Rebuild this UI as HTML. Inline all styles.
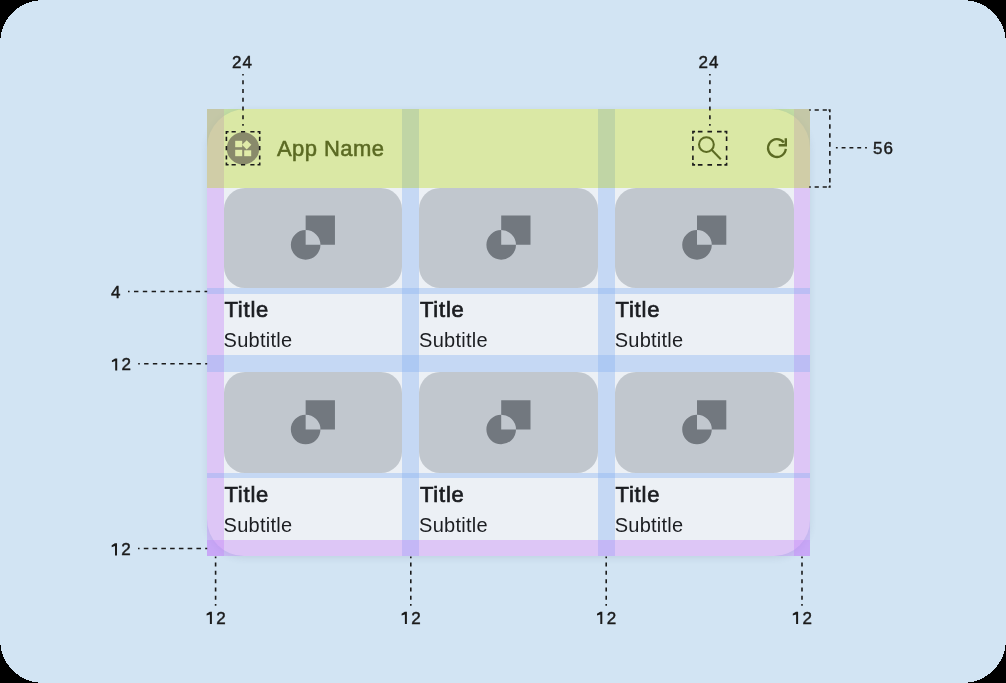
<!DOCTYPE html>
<html><head><meta charset="utf-8">
<style>
html,body{margin:0;padding:0;width:1006px;height:683px;overflow:hidden;background:#000;}
*{box-sizing:border-box;}
body{font-family:"Liberation Sans",sans-serif;position:relative;}
.bg{position:absolute;left:0;top:0;width:1006px;height:683px;isolation:isolate;}
.abs{position:absolute;}
.frame{position:absolute;left:207px;top:109px;width:603px;height:447px;border-radius:39px 39px 36px 37px;background:#ecf0f5;box-shadow:0 2px 7px rgba(60,80,110,0.12);}
.img{position:absolute;border-radius:21px;background:#c1c7ce;}
.title{position:absolute;font-size:22px;color:#1b1d21;line-height:1;white-space:nowrap;letter-spacing:0.8px;-webkit-text-stroke:0.7px #1b1d21;}
.sub{position:absolute;font-size:20px;color:#1b1d21;line-height:1;white-space:nowrap;letter-spacing:0.25px;}
.ov{position:absolute;mix-blend-mode:multiply;}
.ovn{position:absolute;}
.lbl{position:absolute;font-size:17px;color:#1b1b1b;line-height:1;letter-spacing:1px;white-space:nowrap;-webkit-text-stroke:0.45px #1b1b1b;}
svg{position:absolute;left:0;top:0;overflow:visible;}
</style></head><body>
<div class="bg">
  <svg width="1006" height="683" viewBox="0 0 1006 683"><rect x="0" y="0" width="1006" height="683" rx="43" ry="43" fill="#d2e4f3" shape-rendering="crispEdges"/></svg>
  <div class="frame"></div>
  <div class="img" style="left:223.5px;top:187.5px;width:178.9px;height:100.5px;"></div>
  <div class="img" style="left:419.0px;top:187.5px;width:179.0px;height:100.5px;"></div>
  <div class="img" style="left:614.6px;top:187.5px;width:179.4px;height:100.5px;"></div>
  <div class="img" style="left:223.5px;top:372.1px;width:178.9px;height:100.5px;"></div>
  <div class="img" style="left:419.0px;top:372.1px;width:179.0px;height:100.5px;"></div>
  <div class="img" style="left:614.6px;top:372.1px;width:179.4px;height:100.5px;"></div>
  <svg width="1006" height="683" viewBox="0 0 1006 683">
    <path fill="#72787f" d="M305.65 215.55 H334.95 V244.85 H320.45 A14.8 14.8 0 0 0 305.65 230.05 Z M305.65 230.05 A14.8 14.8 0 1 0 320.45 244.85 H305.65 Z"/>
    <path fill="#72787f" d="M501.20 215.55 H530.50 V244.85 H516.00 A14.8 14.8 0 0 0 501.20 230.05 Z M501.20 230.05 A14.8 14.8 0 1 0 516.00 244.85 H501.20 Z"/>
    <path fill="#72787f" d="M697.00 215.55 H726.30 V244.85 H711.80 A14.8 14.8 0 0 0 697.00 230.05 Z M697.00 230.05 A14.8 14.8 0 1 0 711.80 244.85 H697.00 Z"/>
    <path fill="#72787f" d="M305.65 400.15 H334.95 V429.45 H320.45 A14.8 14.8 0 0 0 305.65 414.65 Z M305.65 414.65 A14.8 14.8 0 1 0 320.45 429.45 H305.65 Z"/>
    <path fill="#72787f" d="M501.20 400.15 H530.50 V429.45 H516.00 A14.8 14.8 0 0 0 501.20 414.65 Z M501.20 414.65 A14.8 14.8 0 1 0 516.00 429.45 H501.20 Z"/>
    <path fill="#72787f" d="M697.00 400.15 H726.30 V429.45 H711.80 A14.8 14.8 0 0 0 697.00 414.65 Z M697.00 414.65 A14.8 14.8 0 1 0 711.80 429.45 H697.00 Z"/>
  </svg>
  <div class="title" style="left:224.4px;top:299.18px;">Title</div>
  <div class="sub" style="left:223.6px;top:329.97px;">Subtitle</div>
  <div class="title" style="left:419.9px;top:299.18px;">Title</div>
  <div class="sub" style="left:419.1px;top:329.97px;">Subtitle</div>
  <div class="title" style="left:615.5px;top:299.18px;">Title</div>
  <div class="sub" style="left:614.7px;top:329.97px;">Subtitle</div>
  <div class="title" style="left:224.4px;top:483.78px;">Title</div>
  <div class="sub" style="left:223.6px;top:514.67px;">Subtitle</div>
  <div class="title" style="left:419.9px;top:483.78px;">Title</div>
  <div class="sub" style="left:419.1px;top:514.67px;">Subtitle</div>
  <div class="title" style="left:615.5px;top:483.78px;">Title</div>
  <div class="sub" style="left:614.7px;top:514.67px;">Subtitle</div>
  <div class="ov" style="left:207px;top:109px;width:603.00px;height:78.50px;background:rgb(236,247,172);"></div>
  <div class="ovn" style="left:207px;top:109px;width:16.50px;height:78.50px;background:rgba(198,177,169,0.5);"></div>
  <div class="ovn" style="left:207px;top:187.5px;width:16.50px;height:368.50px;background:rgba(195,125,250,0.36);"></div>
  <div class="ovn" style="left:794px;top:109px;width:16.00px;height:78.50px;background:rgba(198,177,169,0.5);"></div>
  <div class="ovn" style="left:794px;top:187.5px;width:16.00px;height:368.50px;background:rgba(195,125,250,0.36);"></div>
  <div class="ov" style="left:402.4px;top:109px;width:16.60px;height:78.50px;background:rgb(225,234,255);"></div>
  <div class="ovn" style="left:402.4px;top:187.5px;width:16.60px;height:368.50px;background:rgba(133,177,242,0.38);"></div>
  <div class="ov" style="left:598.0px;top:109px;width:16.60px;height:78.50px;background:rgb(225,234,255);"></div>
  <div class="ovn" style="left:598.0px;top:187.5px;width:16.60px;height:368.50px;background:rgba(133,177,242,0.38);"></div>
  <div class="ovn" style="left:207px;top:288.0px;width:603.00px;height:5.60px;background:rgba(133,177,242,0.38);"></div>
  <div class="ovn" style="left:207px;top:355.0px;width:603.00px;height:17.10px;background:rgba(133,177,242,0.38);"></div>
  <div class="ovn" style="left:207px;top:472.6px;width:603.00px;height:5.30px;background:rgba(133,177,242,0.38);"></div>
  <div class="ovn" style="left:207px;top:539.9px;width:603.00px;height:16.10px;background:rgba(195,125,250,0.36);"></div>
  <svg width="1006" height="683" viewBox="0 0 1006 683">
    <circle cx="243" cy="148.4" r="16.2" fill="#898a6b"/>
    <g fill="#e0eba8">
      <rect x="235.2" y="140.8" width="7" height="6.4"/>
      <rect x="235.2" y="149.8" width="7" height="6.4"/>
      <rect x="244.2" y="150.3" width="7" height="5.9"/>
      <rect x="243.4" y="141.5" width="6.6" height="6.6" transform="rotate(45 246.7 144.8)"/>
    </g>
    <g fill="none" stroke="#5b6a23" stroke-width="2.05">
      <circle cx="706.4" cy="144.6" r="7.4"/>
      <line x1="711.6" y1="149.8" x2="720.8" y2="159.2"/>
    </g>
    <g fill="none" stroke="#5b6a23" stroke-width="2.3">
      <path d="M785.8 148.9 A8.9 8.9 0 1 1 783.8 142.4"/>
    </g>
    <path d="M784.6 138.2 H787 V146.4 H778.7 V144.1 H784.6 Z" fill="#5b6a23"/>
  </svg>
  <div class="abs" style="left:276.9px;top:137.88px;font-size:22px;letter-spacing:0.45px;color:#5b6a23;-webkit-text-stroke:0.55px #5b6a23;line-height:1;white-space:nowrap;">App Name</div>
  <svg width="1006" height="683" viewBox="0 0 1006 683"><path fill="none" stroke="#1b1b1b" stroke-width="1.6" d="M243.00 74.00L243.00 75.60M243.00 80.23L243.00 84.33M243.00 88.97L243.00 93.07M243.00 97.70L243.00 101.80M243.00 106.43L243.00 110.53M243.00 115.17L243.00 119.27M243.00 123.90L243.00 125.70M709.90 74.00L709.90 75.60M709.90 80.23L709.90 84.33M709.90 88.97L709.90 93.07M709.90 97.70L709.90 101.80M709.90 106.43L709.90 110.53M709.90 115.17L709.90 119.27M709.90 123.90L709.90 125.70M231.57 131.70L235.78 131.70M240.95 131.70L245.15 131.70M250.32 131.70L254.53 131.70M259.70 136.80L259.70 141.00M259.70 146.10L259.70 150.30M259.70 155.40L259.70 159.60M254.53 164.70L250.32 164.70M245.15 164.70L240.95 164.70M235.78 164.70L231.57 164.70M226.40 159.60L226.40 155.40M226.40 150.30L226.40 146.10M226.40 141.00L226.40 136.80M228.60 131.70L225.60 131.70M226.40 131.70L226.40 133.90M257.50 131.70L260.50 131.70M259.70 131.70L259.70 133.90M257.50 164.70L260.50 164.70M259.70 164.70L259.70 162.50M228.60 164.70L225.60 164.70M226.40 164.70L226.40 162.50M697.88 131.60L702.48 131.60M707.45 131.60L712.05 131.60M717.02 131.60L721.62 131.60M726.60 136.48L726.60 141.08M726.60 145.95L726.60 150.55M726.60 155.42L726.60 160.02M721.62 164.90L717.02 164.90M712.05 164.90L707.45 164.90M702.48 164.90L697.88 164.90M692.90 160.02L692.90 155.42M692.90 150.55L692.90 145.95M692.90 141.08L692.90 136.48M695.10 131.60L692.10 131.60M692.90 131.60L692.90 133.80M724.40 131.60L727.40 131.60M726.60 131.60L726.60 133.80M724.40 164.90L727.40 164.90M726.60 164.90L726.60 162.70M695.10 164.90L692.10 164.90M692.90 164.90L692.90 162.70M809.20 110.00L810.80 110.00M814.63 110.00L818.83 110.00M822.67 110.00L826.87 110.00M829.85 115.21L829.85 119.81M829.85 124.17L829.85 128.77M829.85 133.13L829.85 137.73M829.85 142.09L829.85 146.69M829.85 151.06L829.85 155.66M829.85 160.02L829.85 164.62M829.85 168.98L829.85 173.58M829.85 177.94L829.85 182.54M809.20 187.00L810.80 187.00M814.63 187.00L818.83 187.00M822.67 187.00L826.87 187.00M828.5 110L830.7 110M829.85 110L829.85 112.2M828.5 187L830.7 187M829.85 187.85L829.85 185.5M835.90 147.80L837.70 147.80M841.62 147.80L845.52 147.80M849.45 147.80L853.35 147.80M857.27 147.80L861.17 147.80M865.10 147.80L866.90 147.80M128.00 291.50L129.60 291.50M134.01 291.50L138.41 291.50M142.82 291.50L147.22 291.50M151.63 291.50L156.03 291.50M160.44 291.50L164.84 291.50M169.26 291.50L173.66 291.50M178.07 291.50L182.47 291.50M186.88 291.50L191.28 291.50M195.69 291.50L200.09 291.50M204.50 291.50L207.20 291.50M138.20 363.80L139.80 363.80M144.12 363.80L148.52 363.80M152.85 363.80L157.25 363.80M161.57 363.80L165.97 363.80M170.30 363.80L174.70 363.80M179.03 363.80L183.43 363.80M187.75 363.80L192.15 363.80M196.47 363.80L200.88 363.80M205.20 363.80L207.20 363.80M138.00 548.50L139.60 548.50M143.78 548.50L148.38 548.50M152.55 548.50L157.15 548.50M161.32 548.50L165.93 548.50M170.10 548.50L174.70 548.50M178.88 548.50L183.47 548.50M187.65 548.50L192.25 548.50M196.42 548.50L201.02 548.50M205.20 548.50L207.20 548.50M215.60 556.60L215.60 558.30M215.60 562.58L215.60 566.58M215.60 570.87L215.60 574.87M215.60 579.15L215.60 583.15M215.60 587.43L215.60 591.43M215.60 595.72L215.60 599.72M215.60 604.00L215.60 605.80M410.80 556.60L410.80 558.30M410.80 562.58L410.80 566.58M410.80 570.87L410.80 574.87M410.80 579.15L410.80 583.15M410.80 587.43L410.80 591.43M410.80 595.72L410.80 599.72M410.80 604.00L410.80 605.80M606.20 556.60L606.20 558.30M606.20 562.58L606.20 566.58M606.20 570.87L606.20 574.87M606.20 579.15L606.20 583.15M606.20 587.43L606.20 591.43M606.20 595.72L606.20 599.72M606.20 604.00L606.20 605.80M802.00 556.60L802.00 558.30M802.00 562.58L802.00 566.58M802.00 570.87L802.00 574.87M802.00 579.15L802.00 583.15M802.00 587.43L802.00 591.43M802.00 595.72L802.00 599.72M802.00 604.00L802.00 605.80"/></svg>
  <div class="lbl" style="left:232.0px;top:53.96px;">24</div>
  <div class="lbl" style="left:698.5px;top:54.16px;">24</div>
  <div class="lbl" style="left:873.0px;top:140.06px;">56</div>
  <div class="lbl" style="left:111.0px;top:283.96px;">4</div>
  <div class="lbl" style="left:111.1px;top:356.46px;"><span style="visibility:hidden">1</span>2</div>
  <div class="lbl" style="left:110.9px;top:541.36px;"><span style="visibility:hidden">1</span>2</div>
  <div class="lbl" style="left:205.8px;top:609.76px;"><span style="visibility:hidden">1</span>2</div>
  <div class="lbl" style="left:400.8px;top:609.76px;"><span style="visibility:hidden">1</span>2</div>
  <div class="lbl" style="left:596.2px;top:609.76px;"><span style="visibility:hidden">1</span>2</div>
  <div class="lbl" style="left:792.0px;top:609.76px;"><span style="visibility:hidden">1</span>2</div>
  <svg width="1006" height="683" viewBox="0 0 1006 683"><path fill="#1b1b1b" d="M117.20 358.40L117.20 370.60L115.20 370.60L115.20 361.10L111.90 362.30L111.90 360.40L115.10 358.40ZM117.00 543.30L117.00 555.50L115.00 555.50L115.00 546.00L111.70 547.20L111.70 545.30L114.90 543.30ZM211.90 611.70L211.90 623.90L209.90 623.90L209.90 614.40L206.60 615.60L206.60 613.70L209.80 611.70ZM406.90 611.70L406.90 623.90L404.90 623.90L404.90 614.40L401.60 615.60L401.60 613.70L404.80 611.70ZM602.30 611.70L602.30 623.90L600.30 623.90L600.30 614.40L597.00 615.60L597.00 613.70L600.20 611.70ZM798.10 611.70L798.10 623.90L796.10 623.90L796.10 614.40L792.80 615.60L792.80 613.70L796.00 611.70Z"/></svg>
</div>
</body></html>
